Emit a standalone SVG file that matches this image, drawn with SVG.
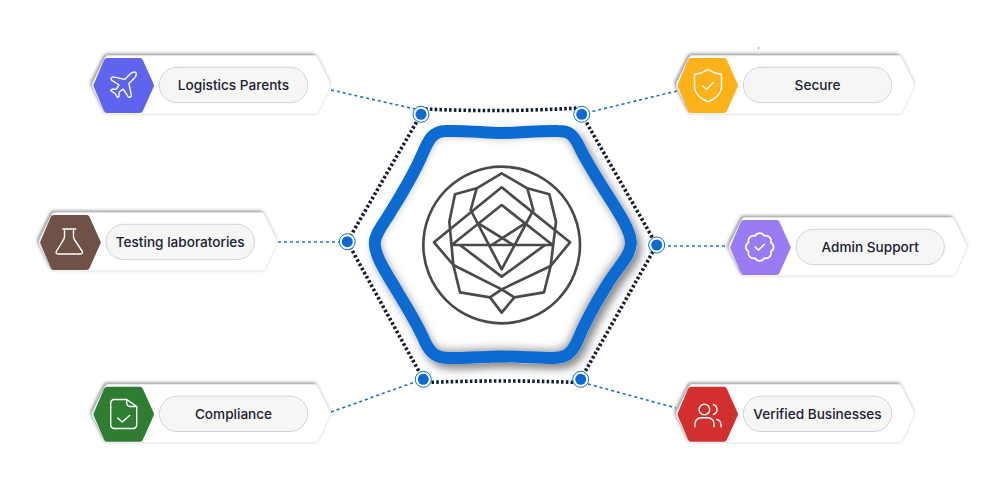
<svg xmlns="http://www.w3.org/2000/svg" xmlns:xlink="http://www.w3.org/1999/xlink" width="1005" height="492" viewBox="0 0 1005 492">
<style>
text{font-family:Inter,"Liberation Sans",sans-serif;font-weight:500;font-size:13.600px;fill:#1b2134;text-anchor:middle}
.ln{fill:none;stroke:#1a70d6;stroke-width:1.6;stroke-dasharray:3 3}
.dot{fill:none;stroke:#14202e;stroke-width:3.600;stroke-dasharray:2.600 2.200}
.ring{fill:#fff;stroke:#0b6bd3;stroke-width:1}
.hub{fill:#0b6bd3}
.pill{fill:#f6f6f5;stroke:#d0d3d9;stroke-width:1}
.ic{fill:none;stroke:#fff;stroke-width:1.400;stroke-linejoin:round;stroke-linecap:round}
.logo{fill:none;stroke:#4a4a4a;stroke-width:8;stroke-linejoin:round}
</style>
<defs>
<filter id="cs" x="-10%" y="-30%" width="120%" height="160%"><feDropShadow dx="-1.500" dy="-1.500" stdDeviation="1.500" flood-color="#808080" flood-opacity=".8"/></filter>
<filter id="hs" x="-20%" y="-20%" width="150%" height="150%"><feDropShadow dx="4" dy="5" stdDeviation="4" flood-color="#444" flood-opacity=".65"/></filter>
<filter id="bl" x="-20%" y="-20%" width="140%" height="140%"><feGaussianBlur stdDeviation="4"/></filter>
<path id="main" d="M374.700 243C375 234 382 226 390 213C398 200 412 178 422 155C428 141 432 131 446 131C470 130.500 485 133 503 133C520 133 537 130.500 558 131C569 131 573 134 579 146C586 161 597 178 607 194C617 210 631 230 631 243C631 256 617 268 607 285C597 301 585 322 577 342C571 354 566 358 553 358C535 358 518 356.500 500 356.500C482 357 465 358 448 358C437 358 431 354 425 342C418 325 407 308 397 291C389 277 375 258 374.700 243Z"/>
<clipPath id="mc"><use xlink:href="#main"/></clipPath>
<path id="card" d="M93 82.500L105 58C106 56 107 55.700 109 55.700H314C316 55.700 317 56 318 58L330 82.500Q331 85 330 87.500L319 111.500C318 113.500 317 114 315 114H109C107 114 106 113.500 105 111.500L93 87.500Q92 85 93 82.500Z"/>
<path id="hx" d="M96.500 85.500L107 61H140L151 85.500L140 110H107Z"/>
</defs>

<g id="connectors">
<path class="ln" d="M331 90L415 109"/>
<path class="ln" d="M677 91L590 112"/>
<path class="ln" d="M278 242H340"/>
<path class="ln" d="M668 246H728"/>
<path class="ln" d="M331 412L415 382"/>
<path class="ln" d="M588 384L676 408"/>
</g>

<g id="orbit">
<path class="dot" d="M425 109Q502 112.500 578 108M581.700 114.300L656.700 245L580.700 379.300M578 382.500Q502 379.500 426 382.500M423.300 379.300L347.300 241.700L421 114.300"/>
<g><circle class="ring" cx="421" cy="114.300" r="8"/><circle class="hub" cx="421" cy="114.300" r="5.500"/></g>
<g><circle class="ring" cx="581.700" cy="114.300" r="8"/><circle class="hub" cx="581.700" cy="114.300" r="5.500"/></g>
<g><circle class="ring" cx="656.700" cy="245" r="8"/><circle class="hub" cx="656.700" cy="245" r="5.500"/></g>
<g><circle class="ring" cx="580.700" cy="379.300" r="8"/><circle class="hub" cx="580.700" cy="379.300" r="5.500"/></g>
<g><circle class="ring" cx="423.300" cy="379.300" r="8"/><circle class="hub" cx="423.300" cy="379.300" r="5.500"/></g>
<g><circle class="ring" cx="347.300" cy="241.700" r="8"/><circle class="hub" cx="347.300" cy="241.700" r="5.500"/></g>
</g>

<g id="hub">
<use xlink:href="#main" fill="#fff" stroke="#fff" stroke-width="12" filter="url(#hs)"/>
<g clip-path="url(#mc)"><use xlink:href="#main" fill="none" stroke="#999" stroke-width="12" filter="url(#bl)" transform="translate(-1 -2)"/></g>
<use xlink:href="#main" fill="none" stroke="#0b6bd3" stroke-width="12" stroke-linejoin="round"/>
<g transform="translate(420 160) scale(.33333)" class="logo">
<circle cx="245" cy="255" r="235"/>
<path d="M245 40L170 85L105 103L88 185L100 315L120 397L210 412L245 388L283 412L372 397L392 318L408 185L388 103L322 85Z"/>
<path d="M42 247L245 82L450 247L392 318L245 388L100 315Z"/>
<path d="M170 85L152 150L245 328L340 150L322 85"/>
<path d="M95 255L245 135L398 255Z"/>
<path d="M120 255L245 350L375 255"/>
<path d="M175 190L280 255M320 187L215 255"/>
<path d="M210 412L245 458L283 412"/>
</g>
</g>

<g id="node-logistics">
<use xlink:href="#card" fill="#fff" stroke="#e8eaee" filter="url(#cs)"/>
<use xlink:href="#hx" fill="#5f64ee" stroke="#5f64ee" stroke-width="6" stroke-linejoin="round"/>
<rect class="pill" x="159.300" y="67.300" width="148.400" height="35.400" rx="17.700"/>
<path class="ic" transform="translate(123.700 85) scale(1.400) translate(-12.300 -12)" style="stroke-width:1" d="M17.800 19.200L16 11l3.500-3.500C21 6 21.500 4 21 3c-1-.5-3 0-4.500 1.500L13 8L4.800 6.200c-.5-.1-.9.1-1.100.5l-.3.5c-.2.5-.1 1 .3 1.300L9 12l-2 3H4l-1 1l3 2l2 3l1-1v-3l3-2l3.500 5.300c.3.4.8.5 1.300.3l.5-.2c.4-.3.6-.7.5-1.200z"/>
<text x="233.500" y="90">Logistics Parents</text>
</g>

<g id="node-testing" transform="translate(-53.300 157)">
<use xlink:href="#card" fill="#fff" stroke="#e8eaee" filter="url(#cs)"/>
<use xlink:href="#hx" fill="#6f5148" stroke="#6f5148" stroke-width="6" stroke-linejoin="round"/>
<rect class="pill" x="159.300" y="67.300" width="148.400" height="35.400" rx="17.700"/>
<path class="ic" transform="translate(122.600 84.500)" d="M-6.500-12.500h13M-4.800-12.500v7.500q0 1.500-.8 2.800L-12.700 9.500q-1.600 3 1.600 3h22.200q3.200 0 1.600-3L5-2.200q-.8-1.300-.8-2.800V-12.500"/>
<text x="233.500" y="90">Testing laboratories</text>
</g>

<g id="node-compliance" transform="translate(0 328.800)">
<use xlink:href="#card" fill="#fff" stroke="#e8eaee" filter="url(#cs)"/>
<use xlink:href="#hx" fill="#2e7d32" stroke="#2e7d32" stroke-width="6" stroke-linejoin="round"/>
<rect class="pill" x="159.300" y="67.300" width="148.400" height="35.400" rx="17.700"/>
<path class="ic" transform="translate(123.700 85.200)" d="M3-14.500H-9.500a3.500 3.500 0 0 0-3.500 3.500V11a3.500 3.500 0 0 0 3.500 3.500H9.500a3.500 3.500 0 0 0 3.500-3.500V-7.500L3-14.500v3.500a3.500 3.500 0 0 0 3.500 3.500H13M-6 4L-1.500 8L6 1.500"/>
<text x="233.500" y="90">Compliance</text>
</g>

<g id="node-secure" transform="translate(584 0)">
<use xlink:href="#card" fill="#fff" stroke="#e8eaee" filter="url(#cs)"/>
<use xlink:href="#hx" fill="#fdb219" stroke="#fdb219" stroke-width="6" stroke-linejoin="round"/>
<rect class="pill" x="159.300" y="67.300" width="148.400" height="35.400" rx="17.700"/>
<path class="ic" transform="translate(124 85.300)" d="M0-16C4-13 9-11.500 13.500-11V1C13.500 9 6 14 0 16.500C-6 14-13.500 9-13.500 1V-11C-9-11.500-4-13 0-16ZM-5.300.7L-1.300 4L5.300-2.700"/>
<text x="233.500" y="90">Secure</text>
</g>

<g id="node-admin" transform="translate(636.700 162)">
<use xlink:href="#card" fill="#fff" stroke="#e8eaee" filter="url(#cs)"/>
<use xlink:href="#hx" fill="#9b7bf3" stroke="#9b7bf3" stroke-width="6" stroke-linejoin="round"/>
<rect class="pill" x="159.300" y="67.300" width="148.400" height="35.400" rx="17.700"/>
<path class="ic" transform="translate(123 85)" style="stroke-width:1.700" d="M11.090 4.590A5.200 5.200 0 0 1 4.590 11.090A5.200 5.200 0 0 1-4.590 11.090A5.200 5.200 0 0 1-11.090 4.590A5.200 5.200 0 0 1-11.090-4.590A5.200 5.200 0 0 1-4.590-11.090A5.200 5.200 0 0 1 4.590-11.090A5.200 5.200 0 0 1 11.090-4.590A5.200 5.200 0 0 1 11.090 4.590ZM-4.500 0L-1.300 3L4.500-2.500"/>
<text x="233.500" y="90">Admin Support</text>
</g>

<g id="node-verified" transform="translate(584 328.800)">
<use xlink:href="#card" fill="#fff" stroke="#e8eaee" filter="url(#cs)"/>
<use xlink:href="#hx" fill="#d32f2f" stroke="#d32f2f" stroke-width="6" stroke-linejoin="round"/>
<rect class="pill" x="159.300" y="67.300" width="148.400" height="35.400" rx="17.700"/>
<g class="ic" transform="translate(123.700 85)"><circle cx="-3.300" cy="-4.300" r="5.300"/><path d="M-12.700 13v-3a6 6 0 0 1 6-6h7a6 6 0 0 1 6 6v3M5.700-9.300a5.300 5.300 0 0 1 0 10M9 5.500a6 6 0 0 1 4.300 5v2.500"/></g>
<text x="233.500" y="90">Verified Businesses</text>
</g>

<rect x="758" y="47.500" width="1" height="1" fill="#222"/>
</svg>
